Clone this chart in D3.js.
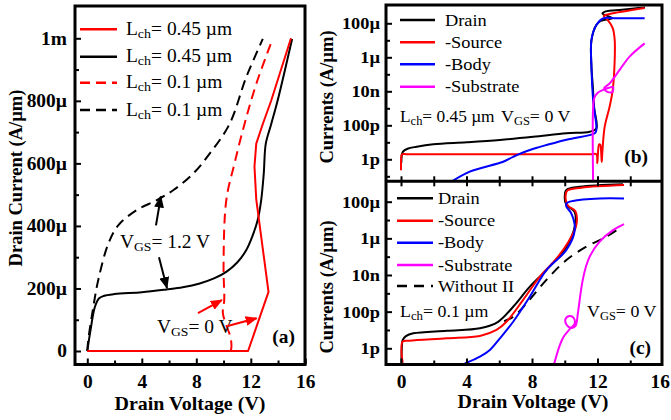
<!DOCTYPE html>
<html><head><meta charset="utf-8">
<script src="https://cdn.jsdelivr.net/npm/d3@7"></script>
<style>
body{margin:0;background:#fff}
svg{display:block}
text{font-family:'Liberation Serif','Times New Roman',serif;fill:#000}
</style>
</head><body>
<svg id="chart" width="671" height="420"></svg>
<script>
// ---------------- DATA ----------------
// Panel (a): Drain current (A/um) vs drain voltage (V)
const a_red045 = [[0,0],[11.8,0],[13.3,1.89e-4],[12.4,4.85e-4],[12.27,5.9e-4],[12.4,6.63e-4],[12.88,7.26e-4],[13.5,8.01e-4],[14.95,1.0e-3]];
const a_blk045 = [[0,0],[0.25,7e-5],[0.55,1.4e-4],[0.85,1.68e-4],[1.2,1.76e-4],[2,1.82e-4],[4,1.88e-4],[5.8,1.97e-4],[7,2.04e-4],[8.25,2.16e-4],[9.3,2.32e-4],[10.2,2.53e-4],[11,2.83e-4],[11.66,3.22e-4],[12.1,3.65e-4],[12.5,4.18e-4],[12.76,4.82e-4],[12.95,5.67e-4],[13.1,6.63e-4],[13.5,7.26e-4],[13.97,8.01e-4],[15.03,9.98e-4]];
const a_red01 = [[0,0],[0.5,0],[5,0],[10.2,0],[10.5,0],[10.55,3.5e-5],[9.95,1.21e-4],[10.05,1.63e-4],[10.0,2.69e-4],[10.2,4.82e-4],[10.8,5.99e-4],[11.54,7.26e-4],[12.4,8.54e-4],[13.6,9.98e-4]];
const a_blk01 = [[0,0],[0.07,3.5e-5],[0.4,1.3e-4],[0.8,2.26e-4],[1.54,3.43e-4],[2.27,4.02e-4],[3.6,4.5e-4],[5.07,4.82e-4],[6.3,5.14e-4],[7.76,5.67e-4],[8.98,6.31e-4],[10.44,7.26e-4],[11.66,8.75e-4],[12.88,9.98e-4]];
const a_xTicks = [0,4,8,12,16];
const a_xMinor = [2,6,10,14];
const a_yTicks = [0,2e-4,4e-4,6e-4,8e-4,1e-3];
const a_yLabels = ["0","200\u00b5","400\u00b5","600\u00b5","800\u00b5","1m"];
const a_yMinor = [1e-4,3e-4,5e-4,7e-4,9e-4];
const a_legend = [
  {lch:"0.45", color:"#ff0000", dash:null},
  {lch:"0.45", color:"#000000", dash:null},
  {lch:"0.1", color:"#ff0000", dash:"10,6"},
  {lch:"0.1", color:"#000000", dash:"10,6"}
];

// Panel (b): L=0.45 um, VGS=0 V, currents (A/um)
const b_drain = [[0.02,6e-13],[0.04,1.5e-12],[0.12,2.8e-12],[0.4,4.2e-12],[0.96,5.5e-12],[1.97,7.6e-12],[4.0,1.0e-11],[6.04,1.38e-11],[8.07,2.1e-11],[10.1,3.4e-11],[11.52,4.2e-11],[11.93,6.6e-11],[11.8,1e-9],[11.7,3e-8],[11.63,2.8e-7],[11.63,1.0e-5],[11.93,8e-5],[12.2,1.4e-4],[12.9,2.0e-4],[12.3,3.8e-4],[12.5,5e-4],[13.5,6.3e-4],[14.9,8.7e-4]];
const b_source = [[0.0,2.3e-13],[0.02,1.5e-12],[0.06,2e-12],[0.4,2e-12],[6,2e-12],[11.6,2e-12],[11.93,2e-12],[11.99,6e-13],[12.03,2.5e-12],[12.1,7.5e-12],[12.17,7e-12],[12.23,2e-12],[12.26,7e-13],[12.3,3e-12],[12.44,8.3e-11],[12.74,1.26e-9],[12.93,1.2e-8],[13.05,6.9e-7],[13.05,1.05e-5],[12.93,5.2e-5],[12.62,1.6e-4],[12.38,2.7e-4],[12.74,3.5e-4],[14.88,7.9e-4]];
const b_body = [[3.1,5e-14],[4.2,1.9e-13],[6.24,7.2e-13],[6.85,1.4e-12],[7.87,3.5e-12],[10.1,1.4e-11],[11.83,3.4e-11],[11.93,5.2e-11],[11.73,3.2e-9],[11.63,2.8e-7],[11.63,1.05e-5],[11.93,7.9e-5],[12.34,1.95e-4],[13.15,1.95e-4],[14.88,1.95e-4]];
const b_substrate = [[11.73,5e-14],[11.73,1e-9],[11.8,4e-9],[12.0,8e-9],[12.34,1.2e-8],[12.7,1.6e-8],[12.95,1.8e-8],[12.9,9e-9],[12.55,1e-8],[12.4,1.5e-8],[12.74,2.9e-8],[13.35,1.8e-7],[13.96,1.1e-6],[14.88,6.6e-6]];

// Panel (c): L=0.1 um, VGS=0 V
const c_drain = [[0.02,1.6e-13],[0.05,1e-12],[0.1,2.8e-12],[0.3,4.6e-12],[0.75,6.6e-12],[2.79,9.1e-12],[4.82,1.23e-11],[5.93,2.8e-11],[6.85,1.86e-10],[7.87,2.3e-9],[8.88,1.86e-8],[10.1,3.5e-7],[10.61,4.3e-6],[10.6,2.8e-5],[10.1,6.6e-5],[10.0,1.5e-4],[10.1,4.4e-4],[10.91,6.6e-4],[13.55,9.1e-4]];
const c_source = [[0.1,1.6e-13],[0.1,2.3e-12],[0.5,2.6e-12],[2.79,3.5e-12],[4.82,4.7e-12],[5.83,1e-11],[6.44,2.8e-11],[7.46,4.4e-10],[8.48,8.1e-9],[9.5,8e-8],[10.2,6e-7],[10.7,5e-6],[10.65,3e-5],[10.2,6e-5],[10.05,1.5e-4],[10.15,4e-4],[11.0,5.8e-4],[13.62,8.1e-4]];
const c_body = [[3.9,1.5e-13],[4.82,3.5e-13],[5.43,8.1e-13],[6.04,3.5e-12],[6.85,2.8e-11],[7.87,6.6e-10],[8.88,1.86e-8],[10.1,2.3e-7],[10.61,2.8e-6],[10.4,2.3e-5],[10.1,5.4e-5],[10.1,8.1e-5],[10.5,1.1e-4],[12.13,1.5e-4],[13.62,1.5e-4]];
const c_substrate = [[9.33,1.2e-13],[9.7,1.5e-12],[9.95,4.5e-12],[10.3,1.1e-11],[10.6,2.2e-11],[10.55,4.5e-11],[10.3,5.8e-11],[10.05,4e-11],[10.1,2e-11],[10.4,1.3e-11],[10.65,1.6e-11],[10.8,8e-11],[10.95,8e-10],[11.1,5.4e-9],[11.3,3e-8],[11.52,1e-7],[12.13,6.6e-7],[12.95,2.8e-6],[13.62,6e-6]];
const c_withoutII = [[6.3,3e-11],[6.85,5.2e-11],[7.66,2.8e-10],[8.88,5.4e-9],[10.1,6.6e-8],[11.32,3.5e-7],[12.54,1.23e-6],[13.35,3.6e-6]];

const r_xTicks = [0,4,8,12,16];
const r_xMinor = [2,6,10,14];
const r_yTicks = [1e-12,1e-10,1e-8,1e-6,1e-4];
const r_yLabels = ["1p","100p","10n","1\u00b5","100\u00b5"];
const r_yMinor = [1e-13,1e-11,1e-9,1e-7,1e-5,1e-3];
const b_legend = [
  {name:"Drain", color:"#000000"},
  {name:"-Source", color:"#ff0000"},
  {name:"-Body", color:"#0000ff"},
  {name:"-Substrate", color:"#ff00ff"}
];
const c_legend = [
  {name:"Drain", color:"#000000", dash:null},
  {name:"-Source", color:"#ff0000", dash:null},
  {name:"-Body", color:"#0000ff", dash:null},
  {name:"-Substrate", color:"#ff00ff", dash:null},
  {name:"Without II", color:"#000000", dash:"10,7"}
];

// ---------------- CHART ----------------
const SX = 1.08; // horizontal glyph stretch of the original typesetting
const svg = d3.select("#chart");
const defs = svg.append("defs");
function marker(id,color){
  defs.append("marker").attr("id",id).attr("markerUnits","userSpaceOnUse")
    .attr("markerWidth",12).attr("markerHeight",10).attr("refX",11).attr("refY",5)
    .attr("orient","auto").append("path").attr("d","M0,0L12,5L0,10Z").attr("fill",color);
}
marker("ahK","#000"); marker("ahR","#ff0000");

const A = {l:75, r:305, t:6, b:364.5};
const R = {l:386, r:662, t:5, mid:181.3, b:364.5};

const xA = d3.scaleLinear().domain([0,16]).range([87.3,305.3]);
const yA = d3.scaleLinear().domain([0,1e-3]).range([351,38.3]);
const xR = d3.scaleLinear().domain([0,16]).range([401,663]);
const yB = d3.scaleLog().domain([1e-12,1e-4]).range([159.3,23.3]);
const yC = d3.scaleLog().domain([1e-12,1e-4]).range([348.3,201.7]);

function clip(id,x0,y0,x1,y1){
  defs.append("clipPath").attr("id",id).append("rect").attr("x",x0).attr("y",y0).attr("width",x1-x0).attr("height",y1-y0);
}
clip("clipA",A.l+1.5,A.t+1.5,A.r-1.5,A.b-1.5);
clip("clipB",R.l+1.5,R.t+1.5,R.r-1.5,R.mid);
clip("clipC",R.l+1.5,R.mid-12,R.r-1.5,R.b-1.5);

const cr = d3.curveCatmullRom.alpha(0.5);
function draw(g,data,x,y,color,dash,curve){
  g.append("path").datum(data)
   .attr("d",d3.line().x(d=>x(d[0])).y(d=>y(d[1])).curve(curve||cr))
   .attr("fill","none").attr("stroke",color).attr("stroke-width",2)
   .attr("stroke-dasharray",dash||null).attr("stroke-linejoin","round");
}
function txt(x,y,size,bold,anchor,sx){
  return svg.append("text").attr("transform",`translate(${x},${y}) scale(${sx||SX},1)`)
    .attr("font-size",size).attr("font-weight",bold?"bold":null).attr("text-anchor",anchor||"start");
}
function styleAxis(g,size){
  g.select(".domain").remove();
  g.selectAll(".tick line").attr("stroke","#000").attr("stroke-width",2);
  g.selectAll("text").attr("font-size",size).attr("font-weight","bold")
    .attr("font-family","'Liberation Serif','Times New Roman',serif");
}
function stretchLabels(g){
  g.selectAll(".tick text").each(function(){
    const t = d3.select(this);
    const x = +t.attr("x")||0, y = +t.attr("y")||0;
    t.attr("x",0).attr("y",0).attr("transform",`translate(${x},${y}) scale(${SX},1)`);
  });
}

// ---- Panel (a) ----
const gA = svg.append("g").attr("clip-path","url(#clipA)");
draw(gA,a_blk01,xA,yA,"#000","10,6");
draw(gA,a_red01,xA,yA,"#ff0000","10,6");
draw(gA,a_blk045,xA,yA,"#000",null);
draw(gA,a_red045,xA,yA,"#ff0000",null,d3.curveLinear);

let ax = svg.append("g").attr("transform",`translate(${A.l},0)`)
  .call(d3.axisLeft(yA).tickValues(a_yTicks).tickFormat((d,i)=>a_yLabels[i]).tickSizeInner(-6).tickSizeOuter(0).tickPadding(8));
styleAxis(ax,18); stretchLabels(ax);
ax = svg.append("g").attr("transform",`translate(${A.l},0)`)
  .call(d3.axisLeft(yA).tickValues(a_yMinor).tickFormat("").tickSizeInner(-4).tickSizeOuter(0));
styleAxis(ax,18);
ax = svg.append("g").attr("transform",`translate(0,${A.b})`)
  .call(d3.axisBottom(xA).tickValues(a_xTicks).tickFormat(d3.format("d")).tickSizeInner(-6).tickSizeOuter(0).tickPadding(11));
styleAxis(ax,18); stretchLabels(ax);
ax = svg.append("g").attr("transform",`translate(0,${A.b})`)
  .call(d3.axisBottom(xA).tickValues(a_xMinor).tickFormat("").tickSizeInner(-4).tickSizeOuter(0));
styleAxis(ax,18);

svg.append("rect").attr("x",A.l).attr("y",A.t).attr("width",A.r-A.l).attr("height",A.b-A.t)
  .attr("fill","none").attr("stroke","#000").attr("stroke-width",3);

function lch(x,y,val,size,sx){
  const t = txt(x,y,size,false,"start",sx);
  t.append("tspan").text("L");
  t.append("tspan").attr("font-size",size*0.72).attr("dy",3).text("ch");
  t.append("tspan").attr("dy",-3).text("= "+val+" \u00b5m");
}
function vgs(x,y,val,size,sx){
  const t = txt(x,y,size,false,"start",sx);
  t.append("tspan").text("V");
  t.append("tspan").attr("font-size",size*0.7).attr("dy",3).text("GS");
  t.append("tspan").attr("dy",-3).text("= "+val);
}

a_legend.forEach((d,i)=>{
  const yy = [29.3,56.7,82.7,110][i];
  svg.append("line").attr("x1",80).attr("x2",117).attr("y1",yy).attr("y2",yy)
    .attr("stroke",d.color).attr("stroke-width",2.5).attr("stroke-dasharray",d.dash);
  lch(126,yy+5.5,d.lch,18);
});
vgs(120,248,"1.2 V",18);
vgs(157,333,"0 V",18);
txt(295,343,18,true,"end").text("(a)");

function arrow(x,y,p0,p1,color,mk){
  svg.append("line").attr("x1",x(p0[0])).attr("y1",y(p0[1])).attr("x2",x(p1[0])).attr("y2",y(p1[1]))
    .attr("stroke",color).attr("stroke-width",2).attr("marker-end",`url(#${mk})`);
}
arrow(xA,yA,[5.04,4.02e-4],[5.4,4.94e-4],"#000","ahK");
arrow(xA,yA,[5.26,3.0e-4],[5.85,2.01e-4],"#000","ahK");
arrow(xA,yA,[8.12,1.21e-4],[9.88,1.63e-4],"#ff0000","ahR");
arrow(xA,yA,[10.3,8.0e-5],[12.43,1.05e-4],"#ff0000","ahR");

txt(190,410,18.5,true,"middle").text("Drain Voltage (V)");
svg.append("text").attr("transform","translate(22,178) rotate(-90)").attr("text-anchor","middle").attr("font-size",18.5).attr("font-weight","bold").text("Drain Current (A/\u00b5m)");

// ---- Panel (b) ----
const gB = svg.append("g").attr("clip-path","url(#clipB)");
draw(gB,b_drain,xR,yB,"#000");
draw(gB,b_source,xR,yB,"#ff0000");
draw(gB,b_body,xR,yB,"#0000ff");
draw(gB,b_substrate,xR,yB,"#ff00ff");

// ---- Panel (c) ----
const gC = svg.append("g").attr("clip-path","url(#clipC)");
draw(gC,c_withoutII,xR,yC,"#000","10,7");
draw(gC,c_drain,xR,yC,"#000");
draw(gC,c_source,xR,yC,"#ff0000");
draw(gC,c_body,xR,yC,"#0000ff");
draw(gC,c_substrate,xR,yC,"#ff00ff");

function logAxes(y,lo,hi){
  let g = svg.append("g").attr("transform",`translate(${R.l},0)`)
    .call(d3.axisLeft(y).tickValues(r_yTicks).tickFormat((d,i)=>r_yLabels[i]).tickSizeInner(-6).tickSizeOuter(0).tickPadding(6));
  styleAxis(g,17); stretchLabels(g);
  g = svg.append("g").attr("transform",`translate(${R.l},0)`)
    .call(d3.axisLeft(y).tickValues(r_yMinor.filter(v=>y(v)>lo && y(v)<hi)).tickFormat("").tickSizeInner(-4).tickSizeOuter(0));
  styleAxis(g,17);
}
logAxes(yB,R.t+3,R.mid-3); logAxes(yC,R.mid+3,R.b-3);

ax = svg.append("g").attr("transform",`translate(0,${R.mid-5})`)
  .call(d3.axisBottom(xR).tickValues(r_xTicks.concat(r_xMinor).filter(v=>v<16)).tickFormat("").tickSizeInner(10).tickSizeOuter(0));
styleAxis(ax,17);
svg.append("line").attr("x1",R.l).attr("x2",R.r).attr("y1",R.mid).attr("y2",R.mid).attr("stroke","#000").attr("stroke-width",3);

ax = svg.append("g").attr("transform",`translate(0,${R.b})`)
  .call(d3.axisBottom(xR).tickValues(r_xTicks).tickFormat(d3.format("d")).tickSizeInner(-6).tickSizeOuter(0).tickPadding(11));
styleAxis(ax,18); stretchLabels(ax);
ax.selectAll(".tick line").filter(d=>d>=16).remove();
ax.selectAll(".tick").filter(d=>d>=16).select("text").attr("x",-3);
ax = svg.append("g").attr("transform",`translate(0,${R.b})`)
  .call(d3.axisBottom(xR).tickValues(r_xMinor).tickFormat("").tickSizeInner(-4).tickSizeOuter(0));
styleAxis(ax,18);

svg.append("rect").attr("x",R.l).attr("y",R.t).attr("width",R.r-R.l).attr("height",R.b-R.t)
  .attr("fill","none").attr("stroke","#000").attr("stroke-width",3);

b_legend.forEach((d,i)=>{
  const yy = [20,42.3,64.3,86.7][i];
  svg.append("line").attr("x1",400).attr("x2",435).attr("y1",yy).attr("y2",yy).attr("stroke",d.color).attr("stroke-width",2.5);
  txt(445,yy+5.5,17).text(d.name);
});
c_legend.forEach((d,i)=>{
  const yy = [198.3,220.7,242.7,265,286][i];
  svg.append("line").attr("x1",397).attr("x2",433).attr("y1",yy).attr("y2",yy).attr("stroke",d.color).attr("stroke-width",2.5).attr("stroke-dasharray",d.dash);
  txt(438,yy+5.5,17).text(d.name);
});

lch(400,122,"0.45",17,1.02);
vgs(501,122,"0 V",17,1.05);
lch(400,317,"0.1",17,1.05);
vgs(587,317,"0 V",17,1.05);
txt(648,163,18,true,"end").text("(b)");
txt(651,354,18,true,"end").text("(c)");

txt(533,408,18.5,true,"middle").text("Drain Voltage (V)");
svg.append("text").attr("transform","translate(333,97) rotate(-90)").attr("text-anchor","middle").attr("font-size",18.5).attr("font-weight","bold").text("Currents (A/\u00b5m)");
svg.append("text").attr("transform","translate(333,287) rotate(-90)").attr("text-anchor","middle").attr("font-size",18.5).attr("font-weight","bold").text("Currents (A/\u00b5m)");
</script>
</body></html>
